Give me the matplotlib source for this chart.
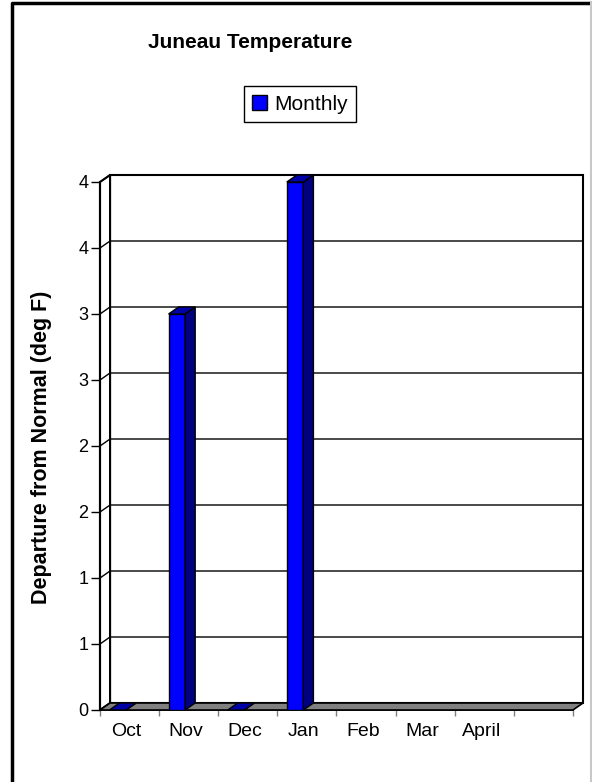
import matplotlib
matplotlib.use('agg')
import matplotlib.pyplot as plt
from matplotlib.patches import Polygon, Rectangle
from matplotlib.lines import Line2D
import numpy as np

plt.rcParams['font.family'] = ['Liberation Sans', 'DejaVu Sans']

months = ["Oct", "Nov", "Dec", "Jan", "Feb", "Mar", "April", ""]
monthly = [0, 3, 0, 4, np.nan, np.nan, np.nan, np.nan]
ytick_vals = [0, 0.5, 1, 1.5, 2, 2.5, 3, 3.5, 4]
ytick_labels = ["0", "1", "1", "2", "2", "3", "3", "4", "4"]

# 3d depth offset in data units
DX = 0.17
DY = 0.053
ncat = len(months)
ymax = 4

fig = plt.figure(figsize=(5.92, 7.82), dpi=100)
ax = fig.add_axes([100 / 592, 72 / 782, 483 / 592, 535 / 782])
ax.set_xlim(0, ncat + DX)
ax.set_ylim(0, ymax + DY)
ax.patch.set_visible(False)

# walls
ax.add_patch(Rectangle((DX, DY), ncat, ymax, facecolor='white', edgecolor='black', lw=1.5, zorder=1, clip_on=False))
ax.add_patch(Polygon([(0, 0), (DX, DY), (DX, ymax + DY), (0, ymax)], closed=True,
                     facecolor='white', edgecolor='black', lw=1.5, zorder=1, clip_on=False))

# gridlines
for y in ytick_vals[1:]:
    ax.plot([0, DX, ncat + DX], [y, y + DY, y + DY], color='black', lw=1, zorder=2, clip_on=False)

# floor
ax.add_patch(Polygon([(0, 0), (ncat, 0), (ncat + DX, DY), (DX, DY)], closed=True,
                     facecolor='#808080', edgecolor='black', lw=1.2, zorder=3, clip_on=False))

# bars
w = 0.28
for i, v in enumerate(monthly):
    if np.isnan(v):
        continue
    x0 = i + 0.16
    ax.add_patch(Rectangle((x0, 0), w, v, facecolor='#0000FF', edgecolor='black', lw=1, zorder=4))
    ax.add_patch(Polygon([(x0 + w, 0), (x0 + w + DX, DY), (x0 + w + DX, v + DY), (x0 + w, v)], closed=True,
                         facecolor='#000080', edgecolor='black', lw=1, zorder=4))
    ax.add_patch(Polygon([(x0, v), (x0 + w, v), (x0 + w + DX, v + DY), (x0 + DX, v + DY)], closed=True,
                         facecolor='#0000A8', edgecolor='black', lw=1, zorder=5, clip_on=False))

for s in ['top', 'right']:
    ax.spines[s].set_visible(False)
ax.spines['left'].set_bounds(0, ymax)
ax.spines['bottom'].set_bounds(0, ncat)
ax.spines['left'].set_linewidth(1.5)
ax.spines['bottom'].set_linewidth(1.2)
ax.spines['left'].set_zorder(6)

ax.set_yticks(ytick_vals)
ax.set_yticklabels(ytick_labels, fontsize=13)
ax.tick_params(axis='y', length=6.5, width=1, pad=2)

ax.set_xticks(range(ncat + 1))
ax.set_xticklabels([])
ax.set_xticks([i + 0.45 for i in range(ncat)], minor=True)
ax.set_xticklabels(months, minor=True, fontsize=14)
ax.tick_params(axis='x', which='major', length=4, width=1, color='#808080')
ax.tick_params(axis='x', which='minor', length=0, pad=9)

fig.text(42 / 592, 1 - 447 / 782, "Departure from Normal (deg F)", rotation=90,
         ha='center', va='center', fontsize=15.5, fontweight='bold')
fig.text(250 / 592, 1 - 42 / 782, "Juneau Temperature", ha='center', va='center',
         fontsize=15, fontweight='bold')

h = Rectangle((0, 0), 1, 1, facecolor='#0000FF', edgecolor='black', lw=1)
leg = fig.legend([h], ["Monthly"], loc='center', bbox_to_anchor=(300 / 592, 1 - 104 / 782),
                 fontsize=15, fancybox=False, framealpha=1, edgecolor='black',
                 handlelength=0.7, handleheight=0.7, handletextpad=0.35, borderpad=0.4,
                 borderaxespad=0)
leg.get_frame().set_linewidth(1)

# chart border: black left and top, light gray right, none at bottom
fig.add_artist(Line2D([12 / 592, 12 / 592, 1], [0, 1 - 3 / 782, 1 - 3 / 782], transform=fig.transFigure,
                      color='black', lw=2.5))
fig.add_artist(Line2D([590.5 / 592, 590.5 / 592], [0, 1 - 3 / 782], transform=fig.transFigure,
                      color='#c8c8c8', lw=1.5))

fig.savefig('out.png', dpi=100)
